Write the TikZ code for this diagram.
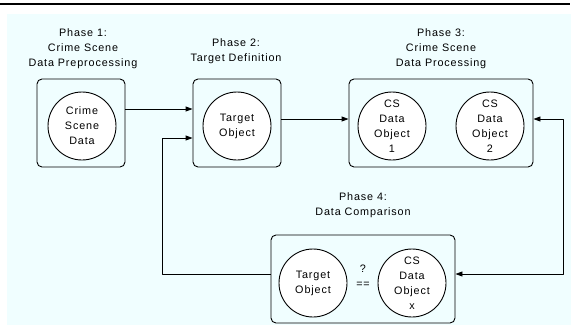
\documentclass[tikz,border=0pt]{standalone}
\usepackage{fontspec}
\setmainfont[LetterSpace=8]{Liberation Sans}
\usetikzlibrary{arrows.meta}
\definecolor{bgcyan}{RGB}{240,254,255}
\begin{document}
\begin{tikzpicture}[x=1pt,y=-1pt,line join=round,>={Triangle[length=7pt,width=5pt]},
	font=\fontsize{10.8}{15}\selectfont,
	phasebox/.style={draw,line width=.9pt,rounded corners=5pt,minimum width=88pt,minimum height=88pt},
	widebox/.style={phasebox,minimum width=184pt},
	dataobj/.style={draw,circle,fill=white,line width=.9pt,minimum size=68pt,inner sep=0pt,align=center},
	label/.style={align=center,inner sep=0pt}]
	\useasboundingbox (0,0) rectangle (571,325);
	\fill[bgcyan] (7,14) rectangle (571,325);
	\draw[line width=2pt] (0,4)--(570,4);
	% phase boxes
	\node[phasebox] (p1) at (81,123) {};
	\node[phasebox] (p2) at (237,123) {};
	\node[widebox] (p3) at (441,123) {};
	\node[widebox] (p4) at (363,279) {};
	% data objects
	\node[dataobj] (c1) at (82,126) {Crime\\Scene\\Data};
	\node[dataobj] (c2) at (237,126) {Target\\Object};
	\node[dataobj] (c3) at (392,126) {CS\\Data\\Object\\1};
	\node[dataobj] (c4) at (490,126) {CS\\Data\\Object\\2};
	\node[dataobj] (c5) at (313,283) {Target\\Object};
	\node[dataobj] (c6) at (412,283) {CS\\Data\\Object\\x};
	\node[label] (eq) at (363,276) {?\\==};
	% phase titles
	\node[label] (t1) at (83,48.5) {Phase 1:\\Crime Scene\\Data Preprocessing};
	\node[label] (t2) at (236,51) {Phase 2:\\Target Definition};
	\node[label] (t3) at (441,48.5) {Phase 3:\\Crime Scene\\Data Processing};
	\node[label] (t4) at (363,205.5) {Phase 4:\\Data Comparison};
	% connectors
	\draw[->,line width=.9pt] ([yshift=14pt]p1.east)--([yshift=14pt]p2.west);
	\draw[->,line width=.9pt] ([yshift=4pt]p2.east)--([yshift=4pt]p3.west);
	\draw[->,line width=.9pt] ([yshift=5pt]p4.west)--++(-108,0)|-([yshift=-15pt]p2.west);
	\draw[<->,line width=.9pt] ([yshift=4pt]p3.east)--++(30,0)|-([yshift=5pt]p4.east);
\end{tikzpicture}
\end{document}
